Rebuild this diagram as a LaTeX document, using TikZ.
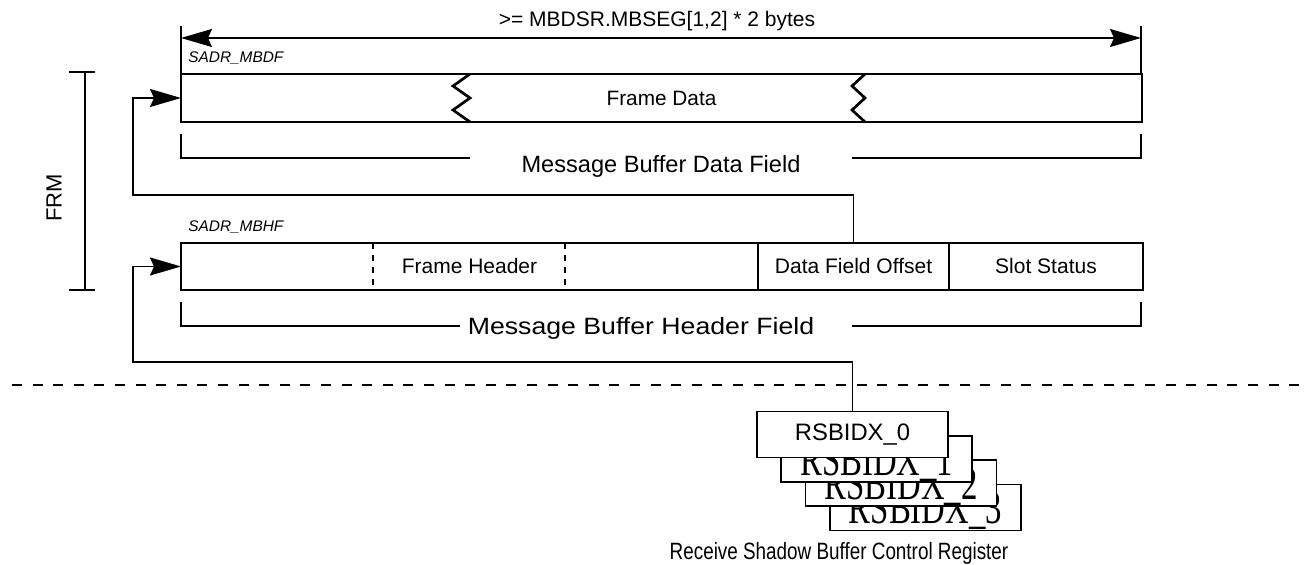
\documentclass[tikz,border=0pt]{standalone}
\usepackage{fontspec}
\setmainfont{Liberation Sans}
\newfontfamily\regserif[FakeStretch=0.7]{Liberation Serif}
\newfontfamily\narrowsans[FakeStretch=0.8]{Liberation Sans}
\newfontfamily\widesans[FakeStretch=1.13]{Liberation Sans}
\usetikzlibrary{positioning,arrows.meta}
\newcommand\fsz[1]{\fontsize{#1}{#1}\selectfont}
\tikzset{
  mb field/.style={draw, line width=1.35pt, inner sep=0pt, outer sep=0pt, font=\fsz{10.5}},
  mb box/.style n args={2}{mb field, anchor=north west, minimum width=#1, minimum height=#2},
  mb thin/.style={line width=0.85pt},
  mb div/.style={line width=0.7pt, dash pattern=on 3pt off 3pt},
  mb sep/.style={line width=1.4pt, dash pattern=on 5pt off 5.3pt},
  mb tip/.tip={Stealth[length=15.5pt, width=9pt, inset=2pt]},
  mb arr/.style={mb thin, -mb tip},
  mb dim/.style={mb thin, mb tip-mb tip},
  mb addr/.style={font=\fsz{7.7}\itshape, anchor=west, inner sep=0pt},
  mb lbl/.style={font=\fsz{11.8}, inner sep=0pt},
  mb reg/.style={draw, mb thin, fill=white, minimum width=95.5pt, minimum height=23pt, inner sep=0pt},
}
\begin{document}
\begin{tikzpicture}[x=0.5pt, y=-0.5pt]
  \useasboundingbox (0,0) rectangle (1306,565);
  % size of the data field
  \coordinate (dimL) at (181,38);
  \coordinate (dimR) at (1141,38);
  \draw[mb thin] (181,26) -- (181,74) (1141,26) -- (1141,74);
  \draw[mb dim] (dimL) -- (dimR);
  \node[font=\fsz{10.5}, inner sep=0pt] (size) at (657,21) {>= MBDSR.MBSEG[1,2] * 2 bytes};
  % data field
  \node[mb addr] (mbdf) at (188,58) {SADR\_MBDF};
  \node[mb box={480.5pt}{24pt}, font=\fsz{10.4}] (data) at (181,74) {Frame Data};
  \foreach \x/\w in {470/17, 865/13}
    \draw[line width=1.35pt, line join=miter] (\x,74) -- (\x-\w,86) -- (\x,98) -- (\x-\w,110) -- (\x,122);
  \draw[mb thin] (181,134) |- (470,158);
  \draw[mb thin] (852,158) -| (1141,134);
  \node[mb lbl] (dfl) at (661,166) {Message Buffer Data Field};
  % header field
  \node[mb addr] (mbhf) at (188,227) {SADR\_MBHF};
  \node[mb box={288.5pt}{23.5pt}] (hdr) at (181,243) {Frame Header};
  \node[mb box={95.5pt}{23.5pt}] (dfo) at (758,243) {Data Field Offset};
  \node[mb box={97pt}{23.5pt}] (slot) at (949,243) {Slot Status};
  \foreach \x in {373,565} \draw[mb div] (\x,243) -- (\x,290);
  \draw[mb thin] (181,302) |- (460,326);
  \draw[mb thin] (852,326) -| (1141,302);
  \node[mb lbl, font=\widesans\fsz{11.8}] (hfl) at (641,328) {Message Buffer Header Field};
  % links back to the start addresses
  \coordinate (up1) at (133,195);
  \draw[mb arr] (dfo.north) |- (up1) |- (data.west);
  \coordinate (up2) at (133,362);
  % FRM range
  \draw[mb thin] (69,72) -- (95,72) (85,72) -- (85,290) (69,290) -- (95,290);
  \node[font=\fsz{11}, rotate=90, inner sep=0pt] (frm) at (54,198) {FRM};
  \draw[mb sep] (12,385) -- (1306,385);
  % shadow buffer registers, back to front
  \foreach \i in {3,2,1}
    \node[mb reg, font=\regserif\fsz{23.4}, text height=16.5pt, text depth=0pt] (rsb\i) at (852.5+24.3*\i, 434.5+24.3*\i) {RSBIDX\_\i};
  \node[mb reg, font=\fsz{11.9}] (rsb0) at (852.5,434.5) {RSBIDX\_0};
  \draw[mb arr] (rsb0.north) |- (up2) |- (hdr.west);
  \node[font=\narrowsans\fsz{11.8}, inner sep=0pt] (rsbl) at (839,553) {Receive Shadow Buffer Control Register};
\end{tikzpicture}
\end{document}
